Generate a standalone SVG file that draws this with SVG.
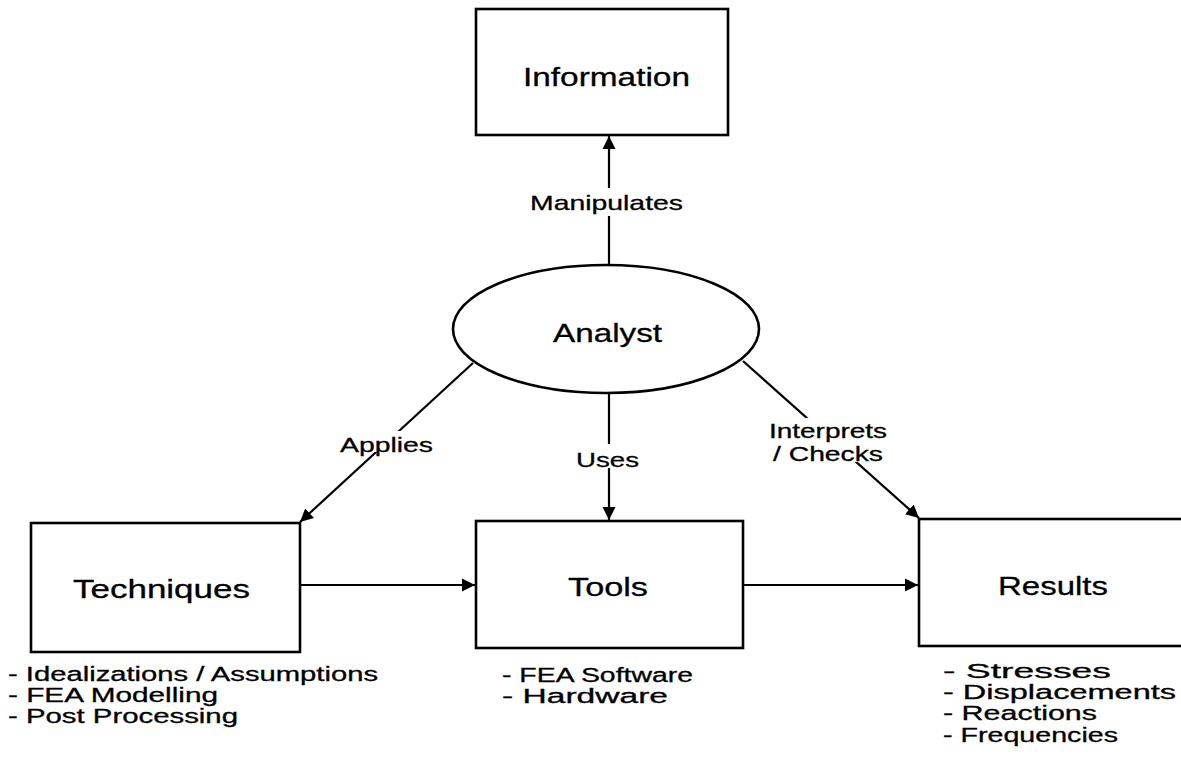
<svg xmlns="http://www.w3.org/2000/svg" width="1181" height="761" viewBox="0 0 1181 761">
  <style>
    .box { fill: #fff; stroke: #000; stroke-width: 2.6; }
    text { fill: #000; stroke: #000; stroke-width: 0.3; font-family: "Liberation Sans", Arial, sans-serif; }
    .title { font-size: 26px; }
    .lbl { font-size: 21px; }
    .lbl2 { font-size: 19.5px; }
    .note { font-size: 20px; }
    .edge { fill: none; stroke: #000; stroke-width: 2.2; }
    .mask { fill: #fff; stroke: none; }
  </style>
  <defs>
    <marker id="arrow" markerUnits="userSpaceOnUse" markerWidth="14" markerHeight="14" viewBox="0 0 14 14" refX="13" refY="7" orient="auto">
      <path d="M0,0.5 L13,7 L0,13.5 Z" fill="#000"/>
    </marker>
  </defs>

  <!-- connectors -->
  <g id="connectors">
    <line class="edge" x1="609" y1="265" x2="609" y2="136" marker-end="url(#arrow)"/>
    <line class="edge" x1="473" y1="363" x2="300" y2="522" marker-end="url(#arrow)"/>
    <line class="edge" x1="609" y1="393" x2="609" y2="520" marker-end="url(#arrow)"/>
    <line class="edge" x1="743" y1="361" x2="919" y2="518" marker-end="url(#arrow)"/>
    <line class="edge" x1="300" y1="585" x2="475" y2="585" marker-end="url(#arrow)"/>
    <line class="edge" x1="743" y1="585" x2="918" y2="585" marker-end="url(#arrow)"/>

    <!-- connector labels -->
    <rect class="mask" x="528" y="188" width="157" height="28"/>
    <text class="lbl" x="530" y="210" textLength="153" lengthAdjust="spacingAndGlyphs">Manipulates</text>

    <rect class="mask" x="338" y="431" width="97" height="21"/>
    <text class="lbl" x="340" y="452" textLength="93" lengthAdjust="spacingAndGlyphs">Applies</text>

    <rect class="mask" x="574" y="444" width="67" height="24"/>
    <text class="lbl" x="576" y="467" textLength="63" lengthAdjust="spacingAndGlyphs">Uses</text>

    <rect class="mask" x="767" y="418" width="122" height="44"/>
    <text class="lbl2" x="769" y="438" textLength="118" lengthAdjust="spacingAndGlyphs">Interprets</text>
    <text class="lbl2" x="773" y="461" textLength="110" lengthAdjust="spacingAndGlyphs">/ Checks</text>
  </g>

  <g id="information">
    <rect class="box" x="476" y="9" width="252" height="126"/>
    <text class="title" x="523" y="86" textLength="167" lengthAdjust="spacingAndGlyphs">Information</text>
  </g>

  <g id="analyst">
    <ellipse class="box" cx="606" cy="329" rx="153" ry="64"/>
    <text class="title" x="553" y="342" textLength="109" lengthAdjust="spacingAndGlyphs">Analyst</text>
  </g>

  <g id="techniques">
    <rect class="box" x="31" y="523" width="269" height="129"/>
    <text class="title" x="73" y="598" textLength="177" lengthAdjust="spacingAndGlyphs">Techniques</text>
    <text class="note" x="8" y="681" textLength="370" lengthAdjust="spacingAndGlyphs">- Idealizations / Assumptions</text>
    <text class="note" x="8" y="702" textLength="210" lengthAdjust="spacingAndGlyphs">- FEA Modelling</text>
    <text class="note" x="8" y="723" textLength="230" lengthAdjust="spacingAndGlyphs">- Post Processing</text>
  </g>

  <g id="tools">
    <rect class="box" x="476" y="521" width="267" height="127"/>
    <text class="title" x="568" y="596" textLength="80" lengthAdjust="spacingAndGlyphs">Tools</text>
    <text class="note" x="502" y="682" textLength="191" lengthAdjust="spacingAndGlyphs">- FEA Software</text>
    <text class="note" x="502" y="703" textLength="166" lengthAdjust="spacingAndGlyphs">- Hardware</text>
  </g>

  <g id="results">
    <rect class="box" x="919" y="519" width="300" height="127"/>
    <text class="title" x="998" y="595" textLength="110" lengthAdjust="spacingAndGlyphs">Results</text>
    <text class="note" x="943" y="678" textLength="168" lengthAdjust="spacingAndGlyphs">- Stresses</text>
    <text class="note" x="943" y="699" textLength="233" lengthAdjust="spacingAndGlyphs">- Displacements</text>
    <text class="note" x="943" y="720" textLength="154" lengthAdjust="spacingAndGlyphs">- Reactions</text>
    <text class="note" x="943" y="742" textLength="175" lengthAdjust="spacingAndGlyphs">- Frequencies</text>
  </g>
</svg>
